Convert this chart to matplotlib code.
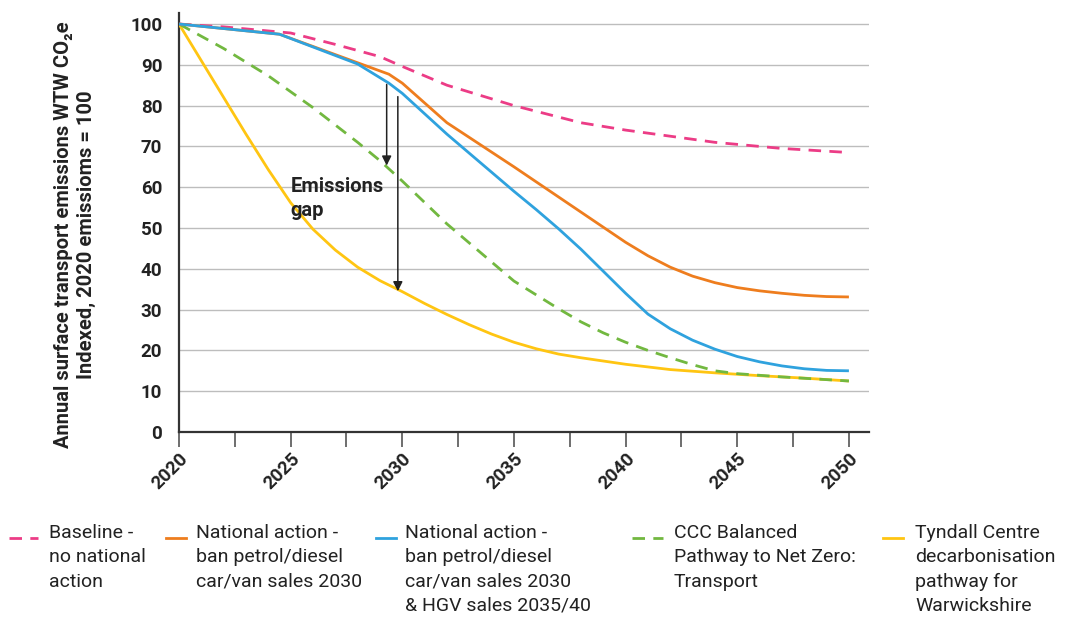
import matplotlib
matplotlib.use('Agg')
import matplotlib.pyplot as plt
from matplotlib.lines import Line2D

plt.rcParams['font.family'] = ['Roboto', 'DejaVu Sans']

# data
base_years = [2020, 2022, 2025, 2027, 2029, 2030, 2032, 2035, 2038, 2040, 2042, 2044, 2047, 2050]
base_vals = [100, 99.3, 97.8, 95, 92, 89.6, 85, 80, 75.8, 74, 72.5, 71, 69.5, 68.5]

nat_years = [2020, 2024.5, 2028, 2029.4, 2030, 2032, 2035, 2037, 2038, 2039, 2040, 2041, 2042,
             2043, 2044, 2045, 2046, 2047, 2048, 2049, 2050]
nat_vals = [100, 97.5, 90.5, 87.7, 85.5, 75.8, 65, 57.6, 53.9, 50.2, 46.5, 43.2, 40.4, 38.2,
            36.6, 35.4, 34.6, 34, 33.5, 33.2, 33.1]

hgv_years = [2020, 2024.5, 2028, 2029.4, 2030, 2032, 2035, 2036, 2037, 2038, 2039, 2040, 2041,
             2042, 2043, 2044, 2045, 2046, 2047, 2048, 2049, 2050]
hgv_vals = [100, 97.5, 90.2, 85.5, 83, 73, 59, 54.5, 49.8, 44.8, 39.4, 34, 28.9, 25.3, 22.5,
            20.3, 18.5, 17.2, 16.2, 15.5, 15.1, 15]

ccc_years = [2020, 2022, 2024, 2026, 2028, 2029, 2030, 2032, 2035, 2037, 2038, 2039, 2040, 2041,
             2042, 2043, 2044, 2045, 2047, 2050]
ccc_vals = [100, 94, 87.3, 79.5, 71, 66.5, 61.5, 51, 37, 30.2, 27, 24.3, 22, 20, 18.2, 16.5,
            15, 14.3, 13.5, 12.5]

tyn_years = [2020, 2021, 2022, 2023, 2024, 2025, 2026, 2027, 2028, 2029, 2030, 2031, 2032, 2033,
             2034, 2035, 2036, 2037, 2038, 2040, 2042, 2044, 2046, 2048, 2050]
tyn_vals = [100, 91, 82, 73, 64.3, 56.2, 49.7, 44.6, 40.4, 37.1, 34.4, 31.5, 28.8, 26.3,
            24, 22, 20.4, 19.1, 18.2, 16.6, 15.3, 14.5, 13.8, 13.2, 12.5]

labels = ['Baseline -\nno national\naction',
          'National action -\nban petrol/diesel\ncar/van sales 2030',
          'National action -\nban petrol/diesel\ncar/van sales 2030\n& HGV sales 2035/40',
          'CCC Balanced\nPathway to Net Zero:\nTransport',
          'Tyndall Centre\ndecarbonisation\npathway for\nWarwickshire']
colors = ['#EC3C86', '#EE7D1E', '#2FA2DE', '#72B840', '#FFC512']
dashed = [True, False, False, True, False]

fig = plt.figure(figsize=(10.76, 6.2), dpi=100)
ax = fig.add_axes([179 / 1076, 1 - 432 / 620, 690 / 1076, 419 / 620])

series = [(base_years, base_vals), (nat_years, nat_vals), (hgv_years, hgv_vals),
          (ccc_years, ccc_vals), (tyn_years, tyn_vals)]
dash = (0, (4.5, 3))
# draw order: yellow first, so others overlay like the original
for i in [4, 3, 0, 1, 2]:
    xs, ys = series[i]
    ls = dash if dashed[i] else '-'
    ax.plot(xs, ys, color=colors[i], lw=2, ls=ls, solid_capstyle='butt',
            solid_joinstyle='round', zorder=3)

ax.set_xlim(2020, 2050.9)
ax.set_ylim(0, 102.7)
ax.set_yticks(range(0, 101, 10))
ax.set_xticks(range(2020, 2051, 5))
ax.set_xticks([2022.5 + 5 * k for k in range(6)], minor=True)
ax.grid(axis='y', color='#bdbdbd', lw=1)
ax.set_axisbelow(True)
for s in ['top', 'right']:
    ax.spines[s].set_visible(False)
for s in ['left', 'bottom']:
    ax.spines[s].set_color('#333333')
    ax.spines[s].set_linewidth(1.6)
ax.tick_params(axis='y', length=0, pad=12, labelsize=13.5, colors='#222222')
ax.tick_params(axis='x', which='both', length=11, width=1.2, color='#555555',
               labelsize=13.5, labelcolor='#222222', pad=2)
for t in ax.get_yticklabels():
    t.set_fontweight('bold')
for t in ax.get_xticklabels():
    t.set_fontweight('bold')
    t.set_rotation(45)
    t.set_ha('right')
    t.set_rotation_mode('anchor')

ax.set_ylabel('Annual surface transport emissions WTW CO\u2082e\nIndexed, 2020 emissioms = 100',
              fontsize=14.5, fontweight='bold', color='#222222', linespacing=1.25)
ax.yaxis.set_label_coords(-0.12, 0.472)

# emissions gap arrows
ax.annotate('', xy=(2029.3, 65.3), xytext=(2029.3, 85.2),
            arrowprops=dict(arrowstyle='-|>', color='#222222', lw=1.1,
                            mutation_scale=14, shrinkA=0, shrinkB=0))
ax.annotate('', xy=(2029.8, 34.5), xytext=(2029.8, 82.2),
            arrowprops=dict(arrowstyle='-|>', color='#222222', lw=1.1,
                            mutation_scale=14, shrinkA=0, shrinkB=0))
ax.text(2025.0, 62.5, 'Emissions\ngap', fontsize=14.5, fontweight='bold',
        color='#222222', va='top', ha='left', linespacing=1.3, zorder=5)

# legend, handles aligned to first line
handle_x = [(9, 38), (166, 186), (376, 396), (632, 663), (883, 903)]
text_x = [49, 196, 405, 674, 915]
hy = 1 - 538 / 620
for i in range(5):
    ls = dash if dashed[i] else '-'
    x0, x1 = handle_x[i]
    fig.add_artist(Line2D([x0 / 1076, x1 / 1076], [hy, hy], color=colors[i], lw=2, ls=ls,
                          transform=fig.transFigure))
    fig.text(text_x[i] / 1076, 1 - 524 / 620, labels[i], fontsize=14, color='#222222',
             va='top', ha='left', linespacing=1.45)

plt.savefig('out.png', dpi=100)
